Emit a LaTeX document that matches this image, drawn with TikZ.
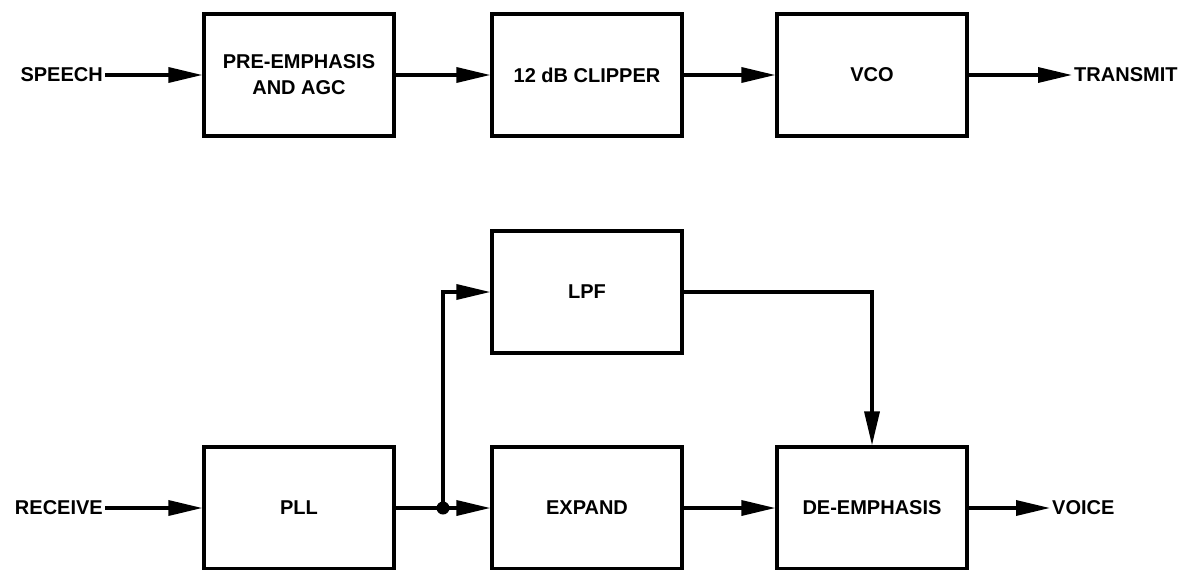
\documentclass[tikz,border=0pt]{standalone}
\usepackage{fontspec}
\setmainfont{Liberation Sans}
\usetikzlibrary{arrows.meta}
\begin{document}
\begin{tikzpicture}[x=1pt,y=-1pt,
  every node/.style={font=\bfseries\fontsize{20}{26}\selectfont},
  blk/.style={draw, line width=3.2pt, minimum width=190pt, minimum height=122pt, inner sep=0pt, align=center},
  lbl/.style={inner sep=2pt},
  arr/.style={line width=3.4pt, -{Triangle[length=34pt,width=15pt]}},
  wire/.style={line width=3.4pt}]
\useasboundingbox (0,0) rectangle (1186,570);
% top row
\node[blk] (pre) at (299,75) {PRE-EMPHASIS\\AND AGC};
\node[blk] (clip) at (587,75) {12 dB CLIPPER};
\node[blk] (vco) at (872,75) {VCO};
\node[lbl, anchor=east] (speech) at (105,75) {SPEECH};
\node[lbl, anchor=west] (transmit) at (1072,75) {TRANSMIT};
% bottom
\node[blk] (lpf) at (587,292) {LPF};
\node[blk] (pll) at (299,508) {PLL};
\node[blk] (expand) at (587,508) {EXPAND};
\node[blk] (deemph) at (872,508) {DE-EMPHASIS};
\node[lbl, anchor=east] (receive) at (105,508) {RECEIVE};
\node[lbl, anchor=west] (voice) at (1050,508) {VOICE};
\coordinate (dot) at (443,508);
% connectors
\draw[arr] (speech) -- (pre);
\draw[arr] (pre) -- (clip);
\draw[arr] (clip) -- (vco);
\draw[arr] (vco) -- (transmit);
\draw[arr] (receive) -- (pll);
\draw[wire] (pll) -- (dot);
\draw[arr] (dot) -- (expand);
\draw[arr] (dot) |- (lpf.west);
\draw[arr] (lpf.east) -| (deemph.north);
\draw[arr] (expand) -- (deemph);
\draw[arr] (deemph) -- (voice);
\fill (dot) circle (6.5pt);
\end{tikzpicture}
\end{document}
